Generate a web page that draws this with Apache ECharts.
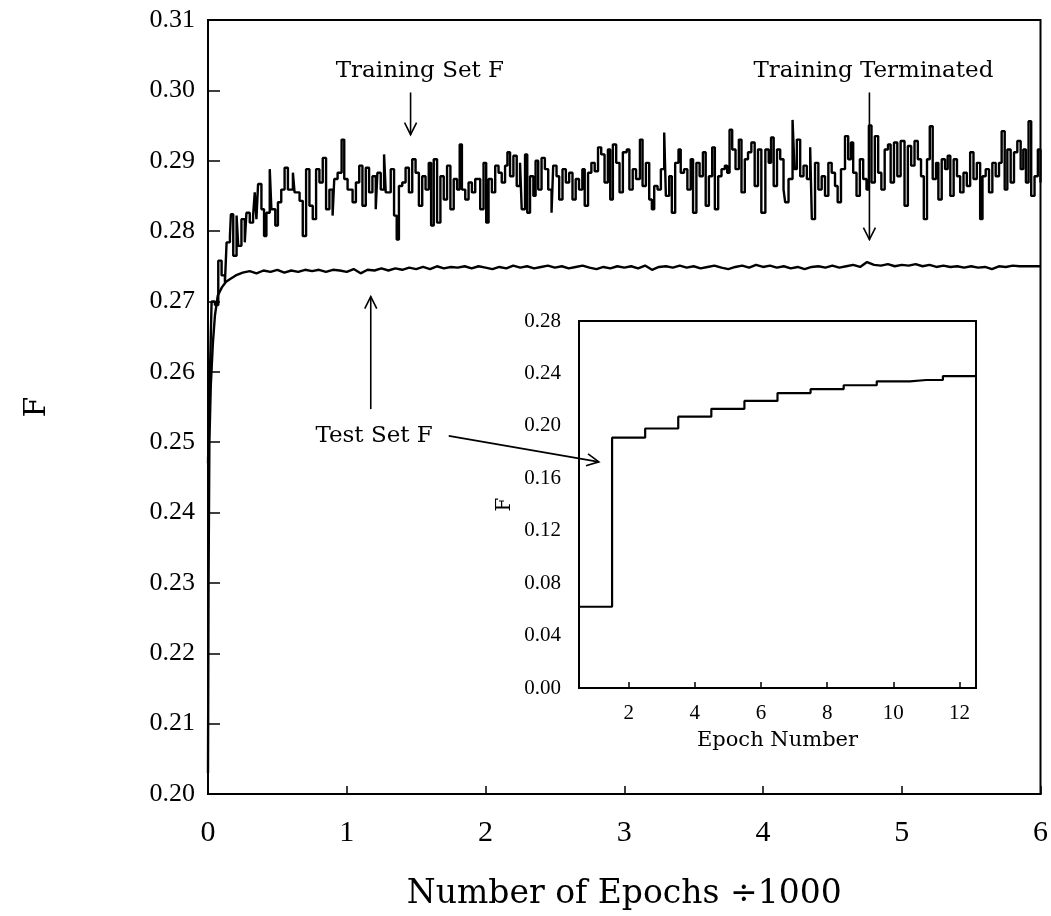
<!DOCTYPE html>
<html><head><meta charset="utf-8">
<script src="https://cdn.jsdelivr.net/npm/echarts@6/dist/echarts.min.js"></script>
<style>html,body{margin:0;padding:0;background:#fff}#c{width:1051px;height:916px}</style>
</head><body><div id="c"></div>
<script>
// ---------- DATA ----------
const trainEpochs = [
0,0.010,0.020,0.026,0.050,0.074,0.098,0.122,0.134,0.158,0.165,0.182,0.206,0.218,0.241,0.265,0.277,0.301,0.325,0.337,
0.349,0.361,0.385,0.404,0.421,0.445,0.457,0.485,0.504,0.528,0.552,0.576,0.612,0.624,0.660,0.683,0.707,0.731,0.755,0.779,
0.803,0.827,0.851,0.875,0.898,0.910,0.934,0.963,0.982,1.006,
1.042,1.066,1.090,1.113,1.137,1.161,1.185,1.209,1.221,1.245,1.269,1.281,1.317,1.341,1.360,1.376,1.400,1.424,1.448,1.472,
1.496,1.520,1.544,1.568,1.591,1.608,1.627,1.651,1.675,1.699,1.723,1.747,1.771,1.795,1.814,1.830,1.854,1.878,1.902,1.926,
1.962,1.986,
2.005,2.022,2.046,2.070,2.094,2.117,2.141,2.158,2.177,2.201,2.225,2.249,2.261,2.285,2.301,2.321,2.345,2.361,2.380,2.404,
2.428,2.452,2.476,2.488,2.512,2.531,2.555,2.579,2.603,2.627,2.650,2.674,2.698,2.715,2.739,2.763,2.787,2.811,2.834,2.858,
2.882,2.899,2.918,2.942,2.966,2.990,
3.018,3.037,3.061,3.085,3.113,3.132,3.156,3.180,3.199,3.216,3.240,3.264,3.288,3.300,3.324,3.343,3.367,3.391,3.407,3.431,
3.455,3.479,3.496,3.520,3.543,3.567,3.587,3.610,3.634,3.653,3.677,3.701,3.725,3.742,3.759,3.778,3.802,3.826,3.845,3.869,
3.892,3.916,3.940,3.964,3.988,
4.017,4.041,4.058,4.077,4.101,4.124,4.148,4.160,4.184,4.213,4.227,4.244,4.268,4.292,4.316,4.340,4.352,4.375,4.399,4.423,
4.447,4.471,4.495,4.519,4.538,4.562,4.591,4.614,4.634,4.650,4.674,4.698,4.722,4.746,4.763,4.782,4.806,4.830,4.853,4.877,
4.901,4.920,4.944,4.968,4.992,
5.020,5.044,5.068,5.092,5.116,5.139,5.159,5.182,5.202,5.223,5.247,5.264,5.288,5.312,5.331,5.350,5.374,5.398,5.421,5.445,
5.469,5.493,5.517,5.541,5.565,5.582,5.605,5.629,5.653,5.677,5.701,5.720,5.742,5.761,5.785,5.809,5.833,5.857,5.876,5.895,
5.914,5.933,5.957,5.981,6.000
];
const trainF = [
0.2470,0.2560,0.2650,0.2700,0.2695,0.2758,0.2737,0.2727,0.2784,0.2793,0.2824,0.2765,0.2822,0.2779,0.2817,0.2784,0.2826,0.2812,0.2822,0.2855,
0.2817,0.2867,0.2831,0.2793,0.2826,0.2888,0.2831,0.2808,0.2841,0.2859,0.2890,0.2859,0.2883,0.2855,0.2843,0.2793,0.2888,0.2836,0.2817,0.2888,
0.2869,0.2904,0.2831,0.2859,0.2822,0.2874,0.2883,0.2930,0.2874,0.2859,
0.2841,0.2869,0.2893,0.2836,0.2890,0.2855,0.2878,0.2831,0.2883,0.2859,0.2909,0.2855,0.2888,0.2822,0.2788,0.2864,0.2869,0.2890,0.2855,0.2902,
0.2883,0.2836,0.2878,0.2859,0.2897,0.2808,0.2902,0.2812,0.2878,0.2845,0.2893,0.2831,0.2874,0.2859,0.2923,0.2859,0.2845,0.2869,0.2855,0.2874,
0.2831,0.2897,
0.2812,0.2874,0.2855,0.2893,0.2883,0.2869,0.2893,0.2912,0.2878,0.2907,0.2864,0.2897,0.2831,0.2909,0.2826,0.2878,0.2850,0.2900,0.2859,0.2904,
0.2888,0.2859,0.2826,0.2893,0.2878,0.2845,0.2888,0.2869,0.2883,0.2845,0.2874,0.2859,0.2888,0.2836,0.2883,0.2897,0.2885,0.2919,0.2909,0.2869,
0.2916,0.2845,0.2923,0.2897,0.2855,0.2912,
0.2916,0.2859,0.2888,0.2874,0.2930,0.2864,0.2897,0.2845,0.2831,0.2864,0.2859,0.2888,0.2940,0.2850,0.2878,0.2826,0.2897,0.2916,0.2883,0.2888,
0.2859,0.2902,0.2826,0.2897,0.2878,0.2912,0.2836,0.2878,0.2919,0.2831,0.2878,0.2888,0.2893,0.2883,0.2944,0.2916,0.2888,0.2930,0.2855,0.2902,
0.2912,0.2926,0.2864,0.2916,0.2826,
0.2916,0.2897,0.2933,0.2864,0.2916,0.2902,0.2859,0.2841,0.2874,0.2958,0.2888,0.2930,0.2878,0.2893,0.2874,0.2919,0.2817,0.2897,0.2859,0.2878,
0.2850,0.2897,0.2883,0.2864,0.2841,0.2888,0.2935,0.2902,0.2926,0.2883,0.2850,0.2902,0.2874,0.2859,0.2950,0.2869,0.2935,0.2883,0.2859,0.2916,
0.2923,0.2869,0.2926,0.2878,0.2928,
0.2836,0.2921,0.2893,0.2928,0.2902,0.2878,0.2817,0.2902,0.2949,0.2874,0.2897,0.2845,0.2902,0.2888,0.2907,0.2850,0.2902,0.2878,0.2855,0.2883,
0.2864,0.2912,0.2874,0.2897,0.2817,0.2878,0.2888,0.2855,0.2897,0.2878,0.2897,0.2942,0.2859,0.2916,0.2869,0.2912,0.2928,0.2888,0.2916,0.2869,
0.2956,0.2850,0.2878,0.2916,0.2869
];
const testEpochs = [
0,0.004,0.010,0.020,0.035,0.05,0.07,0.10,0.13,0.16,0.20,
0.25,0.30,0.35,0.40,0.45,0.50,0.55,0.60,0.65,0.70,0.75,0.80,0.85,0.90,0.95,1.00,
1.05,1.10,1.15,1.20,1.25,1.30,1.35,1.40,1.45,1.50,1.55,1.60,1.65,1.70,1.75,1.80,1.85,1.90,1.95,2.00,
2.05,2.10,2.15,2.20,2.25,2.30,2.35,2.40,2.45,2.50,2.55,2.60,2.65,2.70,2.75,2.80,2.85,2.90,2.95,3.00,
3.05,3.10,3.15,3.20,3.25,3.30,3.35,3.40,3.45,3.50,3.55,3.60,3.65,3.70,3.75,3.80,3.85,3.90,3.95,4.00,
4.05,4.10,4.15,4.20,4.25,4.30,4.35,4.40,4.45,4.50,4.55,4.60,4.65,4.70,4.75,4.80,4.85,4.90,4.95,5.00,
5.05,5.10,5.15,5.20,5.25,5.30,5.35,5.40,5.45,5.50,5.55,5.60,5.65,5.70,5.75,5.80,5.85,5.90,5.95,6.00
];
const testF = [
0.2030,0.2300,0.2500,0.2580,0.2640,0.2680,0.2708,0.2720,0.2728,0.2732,0.2737,
0.2741,0.2743,0.2740,0.2744,0.2742,0.2745,0.2741,0.2744,0.2742,0.2745,0.2743,0.2745,0.2742,0.2745,0.2744,0.2742,
0.2746,0.2740,0.2745,0.2744,0.2747,0.2744,0.2747,0.2745,0.2748,0.2746,0.2749,0.2746,0.2750,0.2747,0.2749,0.2748,0.2750,0.2747,0.2750,0.2748,
0.2746,0.2749,0.2747,0.2751,0.2748,0.2750,0.2747,0.2749,0.2751,0.2748,0.2750,0.2747,0.2749,0.2751,0.2748,0.2746,0.2749,0.2747,0.2750,0.2748,
0.2750,0.2747,0.2751,0.2745,0.2749,0.2750,0.2748,0.2751,0.2748,0.2750,0.2747,0.2749,0.2751,0.2748,0.2746,0.2749,0.2751,0.2748,0.2752,0.2749,
0.2751,0.2748,0.2750,0.2747,0.2749,0.2746,0.2749,0.2750,0.2748,0.2751,0.2748,0.2750,0.2752,0.2749,0.2756,0.2752,0.2751,0.2753,0.2750,0.2752,
0.2751,0.2753,0.2750,0.2752,0.2749,0.2751,0.2749,0.2750,0.2748,0.2750,0.2748,0.2749,0.2746,0.2750,0.2749,0.2751,0.2750,0.2750,0.2750,0.2750
];
const insetEpochs = [1,2,3,4,5,6,7,8,9,10,11,12];
const insetF = [0.062,0.191,0.198,0.207,0.213,0.219,0.225,0.228,0.231,0.234,0.235,0.238];
const insetXTicks = [2,4,6,8,10,12];

// ---------- CHART ----------
const NUM = 'Liberation Serif';
const TXT = 'DejaVu Serif';
const chart = echarts.init(document.getElementById('c'), null, {renderer: 'canvas'});

const insetData = [[insetEpochs[0] - 0.5, insetF[0]]]
  .concat(insetEpochs.map((e, i) => [e, insetF[i]]))
  .concat([[insetEpochs[insetEpochs.length - 1] + 0.5, insetF[insetF.length - 1]]]);

const option = {
  backgroundColor: '#fff',
  animation: false,
  grid: [
    {left: 208, top: 20, width: 840, height: 776, show: true, borderColor: '#000', borderWidth: 2, backgroundColor: 'transparent'},
    {left: 579, top: 321, width: 397, height: 367, show: true, borderColor: '#000', borderWidth: 2, backgroundColor: '#fff'}
  ],
  xAxis: [
    {type: 'value', gridIndex: 0, min: 0, max: 6, interval: 1,
     name: 'Number of Epochs ÷1000', nameLocation: 'middle', nameGap: 84,
     nameTextStyle: {fontFamily: TXT, fontSize: 33, color: '#000'},
     axisLine: {lineStyle: {color: '#000', width: 2}},
     axisTick: {inside: true, length: 8, lineStyle: {color: '#000', width: 1.5}},
     axisLabel: {fontFamily: NUM, fontSize: 30, color: '#000', margin: 24},
     splitLine: {show: false}},
    {type: 'value', gridIndex: 1, min: 0.5, max: 12.5,
     name: 'Epoch Number', nameLocation: 'middle', nameGap: 42,
     nameTextStyle: {fontFamily: TXT, fontSize: 21, color: '#000'},
     axisLine: {lineStyle: {color: '#000', width: 2}},
     axisTick: {inside: true, length: 6, customValues: insetXTicks, lineStyle: {color: '#000', width: 1.5}},
     axisLabel: {fontFamily: NUM, fontSize: 21, color: '#000', margin: 15, customValues: insetXTicks},
     splitLine: {show: false}}
  ],
  yAxis: [
    {type: 'value', gridIndex: 0, min: 0.20, max: 0.31, interval: 0.01,
     name: 'F', nameLocation: 'middle', nameGap: 156, nameRotate: 90,
     nameTextStyle: {fontFamily: TXT, fontSize: 30, color: '#000'},
     axisLine: {lineStyle: {color: '#000', width: 2}},
     axisTick: {inside: true, length: 12, lineStyle: {color: '#000', width: 1.5}},
     axisLabel: {fontFamily: NUM, fontSize: 26, color: '#000', margin: 13, formatter: v => v.toFixed(2)},
     splitLine: {show: false}},
    {type: 'value', gridIndex: 1, min: 0, max: 0.28, interval: 0.04,
     name: 'F', nameLocation: 'middle', nameGap: 64, nameRotate: 90,
     nameTextStyle: {fontFamily: TXT, fontSize: 20, color: '#000'},
     axisLine: {lineStyle: {color: '#000', width: 2}},
     axisTick: {show: false},
     axisLabel: {fontFamily: NUM, fontSize: 21, color: '#000', margin: 18, formatter: v => v.toFixed(2)},
     splitLine: {show: false}}
  ],
  series: [
    {name: 'Training Set F', type: 'line', xAxisIndex: 0, yAxisIndex: 0, step: 'end',
     showSymbol: false, data: trainEpochs.map((e, i) => [e, trainF[i]]),
     lineStyle: {color: '#000', width: 2.4}},
    {name: 'Test Set F', type: 'line', xAxisIndex: 0, yAxisIndex: 0,
     showSymbol: false, data: testEpochs.map((e, i) => [e, testF[i]]),
     lineStyle: {color: '#000', width: 2.4}},
    {name: 'Inset F', type: 'line', xAxisIndex: 1, yAxisIndex: 1, step: 'middle',
     showSymbol: false, data: insetData,
     lineStyle: {color: '#000', width: 2.2}}
  ]
};
chart.setOption(option);

function px(e, f) { return chart.convertToPixel({gridIndex: 0}, [e, f]); }
function arrow(from, to) {
  const dx = to[0] - from[0], dy = to[1] - from[1];
  const L = Math.hypot(dx, dy), ux = dx / L, uy = dy / L;
  const a = 12, w = 6;
  const p1 = [to[0] - ux * a - uy * w, to[1] - uy * a + ux * w];
  const p2 = [to[0] - ux * a + uy * w, to[1] - uy * a - ux * w];
  const st = {stroke: '#000', lineWidth: 1.6, fill: null};
  return [
    {type: 'polyline', silent: true, shape: {points: [from, to]}, style: st},
    {type: 'polyline', silent: true, shape: {points: [p1, to, p2]}, style: st}
  ];
}
function label(txt, p) {
  return {type: 'text', silent: true, x: p[0], y: p[1],
    style: {text: txt, font: '23px "DejaVu Serif"', fill: '#000', textAlign: 'center', textVerticalAlign: 'middle'}};
}
const g = [];
g.push(label('Training Set F', px(1.527, 0.3027)));
g.push(...arrow(px(1.460, 0.2997), px(1.460, 0.2937)));
g.push(label('Training Terminated', px(4.796, 0.3027)));
g.push(...arrow(px(4.767, 0.2997), px(4.767, 0.2788)));
g.push(...arrow(px(1.173, 0.2547), px(1.173, 0.2707)));
g.push(label('Test Set F', px(1.197, 0.2509)));
g.push(...arrow(px(1.735, 0.2509), px(2.817, 0.2472)));
chart.setOption({graphic: g});
</script>
</body></html>
